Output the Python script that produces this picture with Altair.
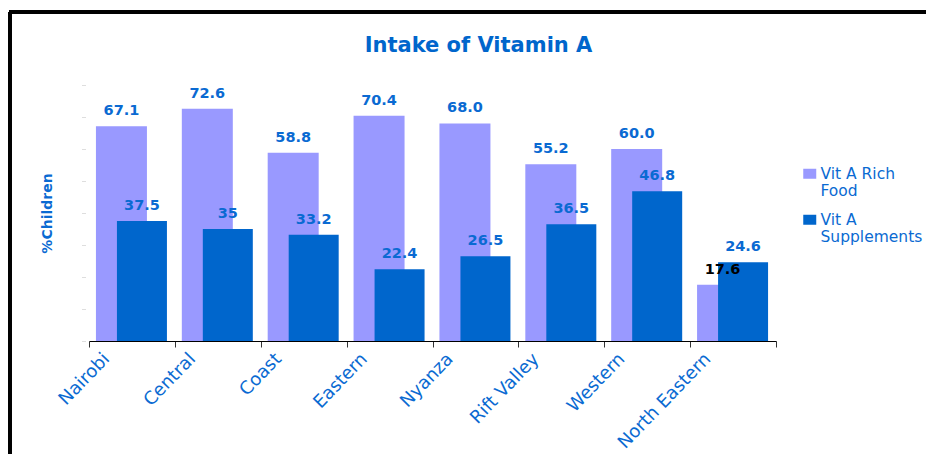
import altair as alt
import pandas as pd

regions = ["Nairobi", "Central", "Coast", "Eastern", "Nyanza",
           "Rift Valley", "Western", "North Eastern"]
rich_food = [67.1, 72.6, 58.8, 70.4, 68.0, 55.2, 60.0, 17.6]
rich_labels = ["67.1", "72.6", "58.8", "70.4", "68.0", "55.2", "60.0", "17.6"]
supplements = [37.5, 35.0, 33.2, 22.4, 26.5, 36.5, 46.8, 24.6]
supp_labels = ["37.5", "35", "33.2", "22.4", "26.5", "36.5", "46.8", "24.6"]
series_names = ["Vit A Rich|Food", "Vit A|Supplements"]
y_ticks = [0, 10, 20, 30, 40, 50, 60, 70, 80]

BLUE = "#0066CC"
TEXT_BLUE = "#0A6AD2"
FONT = "DejaVu Sans"

rows = []
for r, v, l in zip(regions, rich_food, rich_labels):
    rows.append({"region": r, "series": series_names[0], "value": v, "label": l})
for r, v, l in zip(regions, supplements, supp_labels):
    rows.append({"region": r, "series": series_names[1], "value": v, "label": l})
df = pd.DataFrame(rows)

x_enc = alt.X(
    "region:N", sort=regions,
    scale=alt.Scale(paddingInner=0, paddingOuter=0),
    axis=alt.Axis(
        title=None, labelAngle=-46, labelAlign="right", labelBaseline="middle",
        labelOffset=-25.5, labelPadding=9, labelFontSize=18, labelFont=FONT,
        labelColor=TEXT_BLUE, tickBand="extent", tickSize=6, tickColor="#333333",
        domainColor="#000000", domainWidth=1, grid=False,
    ),
)
y_enc = alt.Y(
    "value:Q",
    scale=alt.Scale(domain=[0, 80], nice=False),
    axis=alt.Axis(
        title="%Children", values=y_ticks, labels=False, domain=False,
        tickColor="#bdbdbd", tickSize=3, tickDash=[1, 1], grid=False, offset=4,
        titleX=-38, titleY=128, titleAngle=-90, titleAlign="center",
        titleBaseline="middle", titleFontSize=14, titleFont=FONT,
        titleFontWeight="bold", titleColor=TEXT_BLUE,
    ),
)
color_enc = alt.Color(
    "series:N",
    scale=alt.Scale(domain=series_names, range=["#9999FF", BLUE]),
    legend=alt.Legend(
        title=None, orient="none", legendX=713, legendY=81,
        labelExpr="split(datum.label, '|')", labelFontSize=15.5, labelFont=FONT,
        labelColor=TEXT_BLUE, labelBaseline="middle", labelOffset=3,
        symbolType="M-1.3,-1H1.3V1H-1.3Z", symbolSize=100,
        symbolStrokeWidth=0, rowPadding=12, padding=0, labelLimit=300,
    ),
)

base = alt.Chart(df)

rich_bars = base.transform_filter(
    alt.datum.series == series_names[0]
).mark_bar(width=51, xOffset=-10.5).encode(x=x_enc, y=y_enc, color=color_enc)

supp_bars = base.transform_filter(
    alt.datum.series == series_names[1]
).mark_bar(width=50, xOffset=10).encode(x=x_enc, y=y_enc, color=color_enc)

rich_text = base.transform_filter(
    alt.datum.series == series_names[0]
).mark_text(
    dx=-10.5, dy=-11, baseline="alphabetic", font=FONT, fontSize=14.5,
    fontWeight="bold",
).encode(
    x=x_enc, y=y_enc, text="label:N",
    color=alt.condition(alt.datum.region == "North Eastern",
                        alt.value("#000000"), alt.value(TEXT_BLUE)),
)

supp_text = base.transform_filter(
    alt.datum.series == series_names[1]
).mark_text(
    dx=10, dy=-11, baseline="alphabetic", font=FONT, fontSize=14.5,
    fontWeight="bold", color=TEXT_BLUE,
).encode(x=x_enc, y=y_enc, text="label:N")

frame_left = alt.Chart(df).mark_rule(color="#000000", strokeWidth=2.5).encode(
    x=alt.value(-79), y=alt.value(-73), y2=alt.value(420)
)
frame_top = alt.Chart(df).mark_rule(color="#000000", strokeWidth=2.5).encode(
    x=alt.value(-80), x2=alt.value(900), y=alt.value(-73)
)

chart = alt.layer(
    rich_bars, supp_bars, rich_text, supp_text, frame_left, frame_top
).properties(
    width=687, height=256,
    autosize=alt.AutoSizeParams(type="none"),
    padding={"left": 81, "top": 77, "right": 150, "bottom": 113},
    title=alt.TitleParams(
        "Intake of Vitamin A", anchor="middle", dx=46, offset=-62,
        baseline="alphabetic", fontSize=21, font=FONT, fontWeight="bold",
        color=BLUE,
    ),
).configure(
    background="white",
    view=alt.ViewConfig(stroke="transparent", strokeWidth=0),
)

chart.save("out.html", embed_options={"renderer": "svg", "actions": False})
